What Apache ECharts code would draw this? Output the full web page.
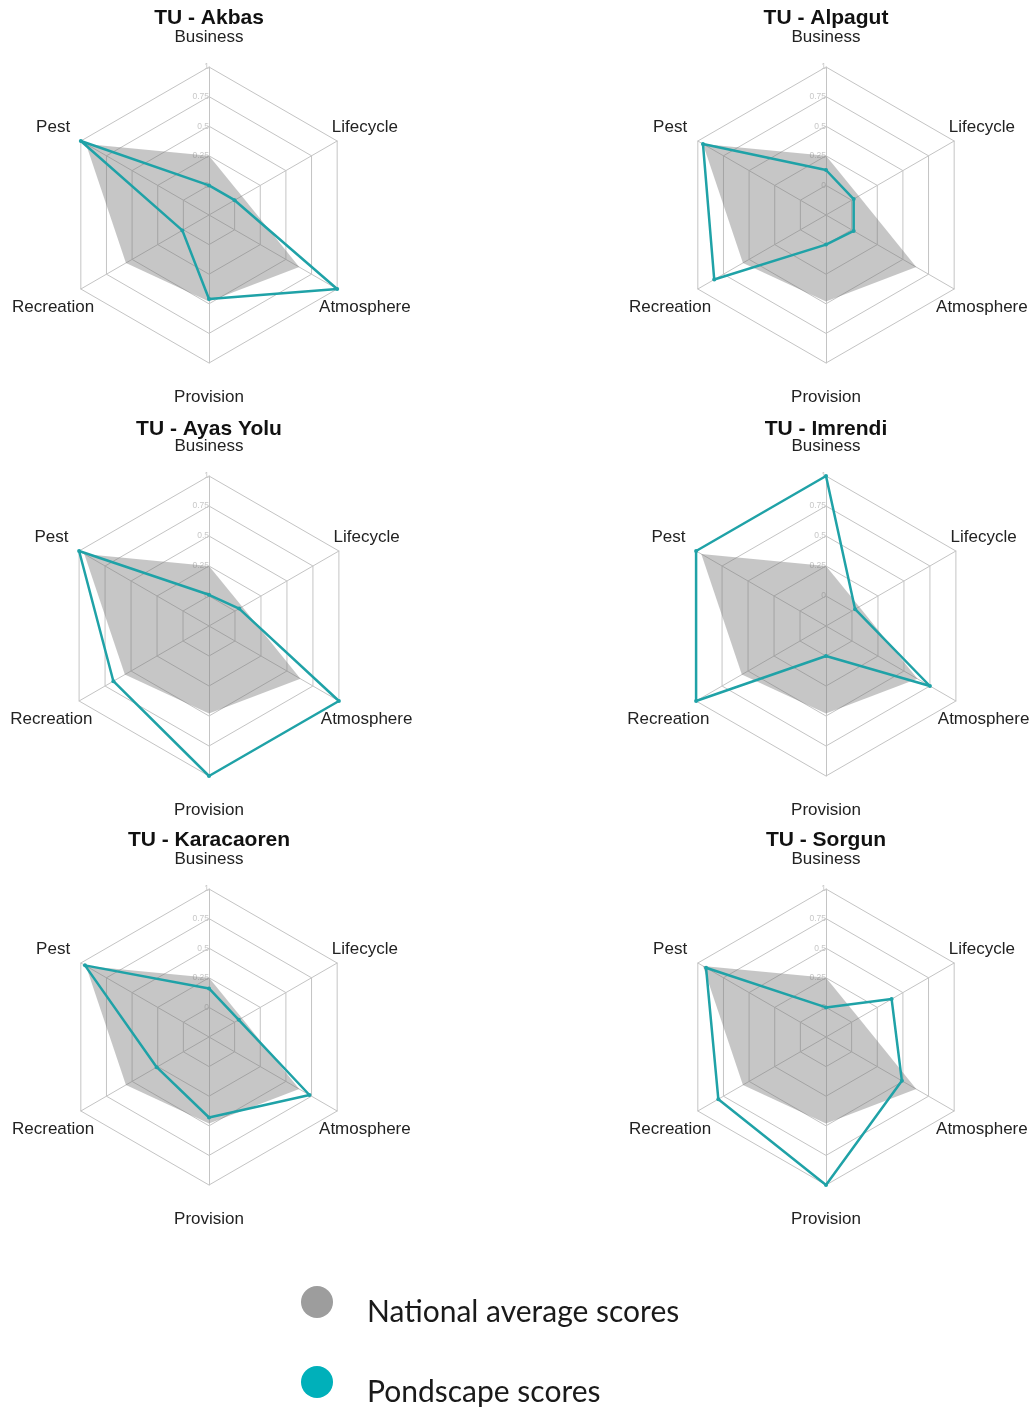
<!DOCTYPE html>
<html>
<head>
<meta charset="utf-8">
<title>Pondscape radar charts</title>
<script src="https://cdn.jsdelivr.net/npm/echarts@6/dist/echarts.min.js"></script>
<style>
  html, body { margin: 0; padding: 0; background: #ffffff; }
  #chart { width: 1036px; height: 1409px; }
</style>
</head>
<body>
<div id="chart"></div>
<script>
// Indicator order runs counter-clockwise from the top axis.
const categories = ['Business', 'Pest', 'Recreation', 'Provision', 'Atmosphere', 'Lifecycle'];
const radialTicks = [-0.25, 0, 0.25, 0.5, 0.75, 1];

const siteNames = ['TU - Akbas', 'TU - Alpagut', 'TU - Ayas Yolu', 'TU - Imrendi', 'TU - Karacaoren', 'TU - Sorgun'];

// National average, same for every site
const nationalScores = [0.25, 0.95, 0.56, 0.48, 0.63, 0.07];

// Pondscape scores per site (same order as categories)
const akbas      = [0.00, 1.00, 0.01, 0.46, 1.00, 0.00];
const alpagut    = [0.13, 0.95, 0.84, 0.00, 0.02, 0.02];
const ayasYolu   = [0.01, 1.00, 0.67, 1.00, 1.00, 0.04];
const imrendi    = [1.00, 1.00, 1.00, 0.00, 0.75, 0.03];
const karacaoren = [0.16, 0.96, 0.26, 0.43, 0.73, 0.04];
const sorgun     = [0.00, 0.92, 0.80, 1.00, 0.49, 0.39];
const siteScores = [akbas, alpagut, ayasYolu, imrendi, karacaoren, sorgun];

const legendNames = ['National average scores', 'Pondscape scores'];

// Panel geometry: [centre x, centre y, radius]
const panels = [
  [209, 215, 148], [826, 215, 148],
  [209, 626, 150], [826, 626, 150],
  [209, 1037, 148], [826, 1037, 148]
];

const TEAL = '#1fa2a7';
const GRID = '#c4c4c4';
const AREA = 'rgba(120,120,120,0.42)';
const minVal = radialTicks[0];
const maxVal = radialTicks[radialTicks.length - 1];

// Legend marker: a 32px dot whose box extends below it, so the label sits a little lower
const legendDot = 'path://M0 16A16 16 0 1 1 32 16A16 16 0 1 1 0 16ZM16 52L16 52';

const radars = panels.map(function (p) {
  return {
    center: [p[0], p[1]],
    radius: p[2],
    shape: 'polygon',
    startAngle: 90,
    splitNumber: radialTicks.length - 1,
    nameGap: 32,
    axisName: {
      color: '#222',
      fontFamily: 'Liberation Sans, Arial, sans-serif',
      fontSize: 17,
      align: 'center',
      verticalAlign: 'middle',
      formatter: function (name) { return '{n|' + name + '}'; },
      rich: {
        n: {
          color: '#222',
          fontFamily: 'Liberation Sans, Arial, sans-serif',
          fontSize: 17,
          padding: [5, 0, 0, 0]
        }
      }
    },
    indicator: categories.map(function (c, i) {
      const ind = { name: c, min: minVal, max: maxVal };
      if (i === 0) {
        ind.axisLabel = {
          show: true,
          color: '#c8c8c8',
          fontSize: 8.5,
          fontFamily: 'Liberation Sans, Arial, sans-serif',
          margin: 0,
          showMinLabel: false,
          formatter: function (v) { return v < 0 ? '' : String(+v.toFixed(2)); }
        };
      }
      return ind;
    }),
    axisLine: { lineStyle: { color: GRID, width: 1 } },
    splitLine: { lineStyle: { color: GRID, width: 1 } },
    splitArea: { show: false },
    axisTick: { show: false },
    axisLabel: { show: false }
  };
});

const titles = panels.map(function (p, i) {
  return {
    text: siteNames[i],
    left: p[0],
    top: p[1] - 209,
    textAlign: 'center',
    padding: 0,
    textStyle: {
      fontFamily: 'Liberation Sans, Arial, sans-serif',
      fontWeight: 'bold',
      fontSize: 21,
      lineHeight: 24,
      color: '#111'
    }
  };
});

const series = siteScores.map(function (scores, i) {
  return {
    type: 'radar',
    radarIndex: i,
    silent: true,
    data: [
      {
        name: legendNames[0],
        value: nationalScores,
        symbol: 'none',
        lineStyle: { width: 0, color: AREA },
        itemStyle: { color: '#9a9a9a' },
        areaStyle: { color: AREA, opacity: 1 }
      },
      {
        name: legendNames[1],
        value: scores,
        symbol: 'circle',
        symbolSize: 4,
        lineStyle: { width: 2.5, color: TEAL },
        itemStyle: { color: TEAL }
      }
    ]
  };
});

const chart = echarts.init(document.getElementById('chart'), null, { renderer: 'canvas' });
chart.setOption({
  backgroundColor: '#ffffff',
  animation: false,
  title: titles,
  radar: radars,
  legend: {
    orient: 'vertical',
    left: 296,
    top: 1281,
    height: 200,
    itemWidth: 32,
    itemHeight: 52,
    itemGap: 28,
    icon: legendDot,
    selectedMode: false,
    itemStyle: { borderWidth: 0 },
    lineStyle: { width: 0 },
    data: [
      { name: legendNames[0], itemStyle: { color: '#9d9d9d', borderWidth: 0 } },
      { name: legendNames[1], itemStyle: { color: '#00b0ba', borderWidth: 0 } }
    ],
    textStyle: {
      fontFamily: 'Lato, sans-serif',
      fontSize: 30,
      color: '#1a1a1a',
      padding: [0, 0, 0, 29]
    }
  },
  series: series
});
</script>
</body>
</html>
